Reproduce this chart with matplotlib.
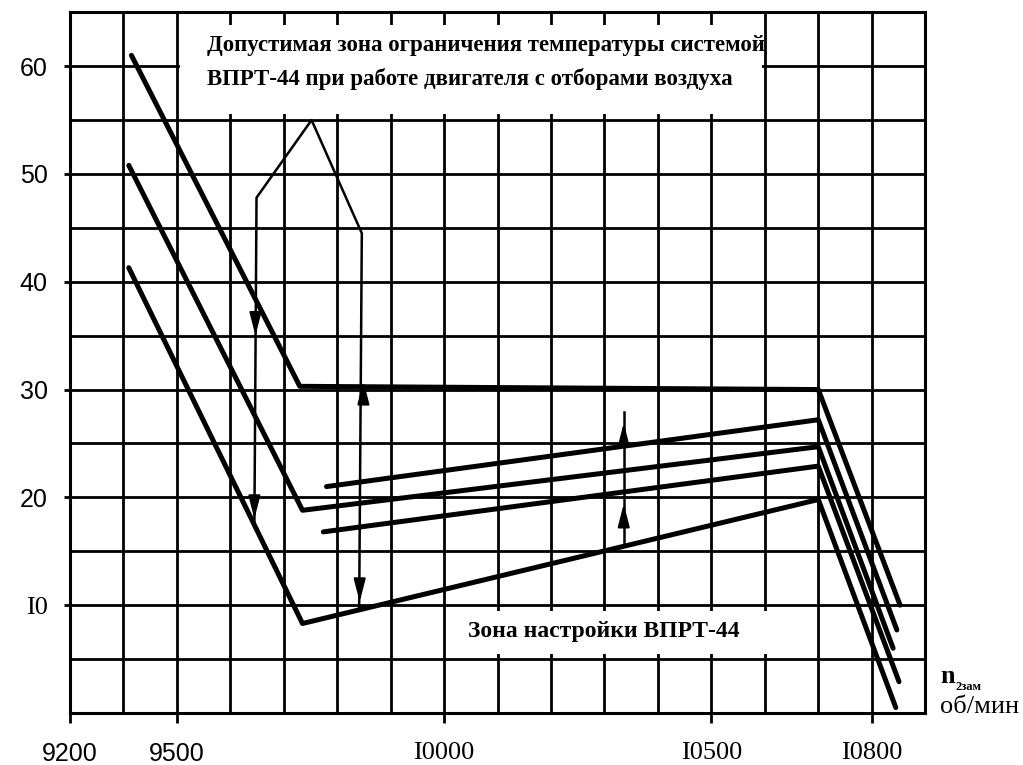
import numpy as np
import matplotlib.pyplot as plt
from matplotlib.patches import Rectangle

# наклонные характеристики (n2зам, об/мин -> температура)
top_x = [9415, 9730, 10700, 10853]
top_y = [61.0, 30.3, 30.0, 10.0]
mid_x = [9410, 9735, 10700, 10840]
mid_y = [50.8, 18.8, 24.7, 6.0]
low_x = [9410, 9735, 10700, 10845]
low_y = [41.3, 8.3, 19.8, 0.5]
a_x = [9780, 10700, 10847]
a_y = [21.0, 27.2, 7.7]
c_x = [9774, 10700, 10851]
c_y = [16.8, 22.9, 2.9]

# граница допустимой зоны (тонкая линия)
zone_x = [9645, 9649, 9752, 9837, 9846, 9841]
zone_y = [17.4, 47.8, 55.0, 45.5, 44.5, 9.6]
vert_x = [10336, 10336]
vert_y = [15.5, 27.9]

# стрелки: x, острие, направление
arrow_x = [9647, 9645, 9849, 9842, 10336, 10336]
arrow_tip = [35.0, 18.0, 30.8, 10.3, 26.9, 19.4]
arrow_dir = [-1, -1, 1, -1, 1, 1]

xtick_pos = [9300, 9500, 10000, 10500, 10800]
xtick_lab = ['9200', '9500', 'I0000', 'I0500', 'I0800']
ytick_pos = [10, 20, 30, 40, 50, 60]
ytick_lab = ['I0', '20', '30', '40', '50', '60']

grid_x = np.arange(9400, 10900, 100)
grid_y = np.arange(5, 65, 5)

fig = plt.figure(figsize=(10.23, 7.65), dpi=100)
ax = fig.add_axes([0.0684, 0.068, 0.836, 0.916])
ax.set_xlim(9300, 10900)
ax.set_ylim(0, 65)

for gx in grid_x:
    ax.axvline(gx, color='k', lw=2.0, zorder=1)
for gy in grid_y:
    ax.axhline(gy, color='k', lw=2.0, zorder=1)

# белые поля под надписями
ax.add_patch(Rectangle((9505, 55.6), 1090, 8.2, facecolor='white', edgecolor='none', zorder=2))
ax.add_patch(Rectangle((10005, 5.5), 690, 4.0, facecolor='white', edgecolor='none', zorder=2))

for xs, ys in [(top_x, top_y), (mid_x, mid_y), (low_x, low_y), (a_x, a_y), (c_x, c_y)]:
    ax.plot(xs, ys, color='k', lw=3.6, solid_capstyle='round', solid_joinstyle='round', zorder=4)

ax.plot(zone_x, zone_y, color='k', lw=1.8, zorder=3)
ax.plot(vert_x, vert_y, color='k', lw=1.8, zorder=3)

for x, tip, d in zip(arrow_x, arrow_tip, arrow_dir):
    ax.annotate('', xy=(x, tip), xytext=(x, tip - d * 1.6),
                arrowprops=dict(arrowstyle='-|>,head_length=0.7,head_width=0.18',
                                color='k', lw=1.5, shrinkA=0, shrinkB=0, mutation_scale=20),
                zorder=5)

ax.text(9557, 61.9, 'Допустимая зона ограничения температуры системой',
        family='Liberation Serif', weight='bold', fontsize=16.5, va='center', ha='left', zorder=5)
ax.text(9557, 58.8, 'ВПРТ-44 при работе двигателя с отборами воздуха',
        family='Liberation Serif', weight='bold', fontsize=16.5, va='center', ha='left', zorder=5)
ax.text(10045, 7.6, 'Зона настройки ВПРТ-44',
        family='Liberation Serif', weight='bold', fontsize=17, va='center', ha='left', zorder=5)

ax.text(10928, 3.4, 'n', family='Liberation Serif', weight='bold', fontsize=19,
        va='center', ha='left', clip_on=False)
ax.text(10957, 2.4, '2зам', family='Liberation Serif', weight='bold', fontsize=9,
        va='center', ha='left', clip_on=False)
ax.text(10928, 0.6, 'об/мин', family='Liberation Serif', fontsize=19,
        va='center', ha='left', clip_on=False)

for s in ax.spines.values():
    s.set_linewidth(2.2)

ax.set_xticks(xtick_pos)
ax.set_xticklabels(xtick_lab)
ax.set_yticks(ytick_pos)
ax.set_yticklabels(ytick_lab)
ax.tick_params(axis='x', length=7, width=2, pad=14)
ax.tick_params(axis='y', length=4, width=2, pad=12)
for lab in ax.get_xticklabels() + ax.get_yticklabels():
    if lab.get_text().startswith('I'):
        lab.set_family('Liberation Serif')
        lab.set_fontsize(19)
    else:
        lab.set_family('Liberation Sans')
        lab.set_fontsize(18)

fig.savefig('out.png', dpi=100)
